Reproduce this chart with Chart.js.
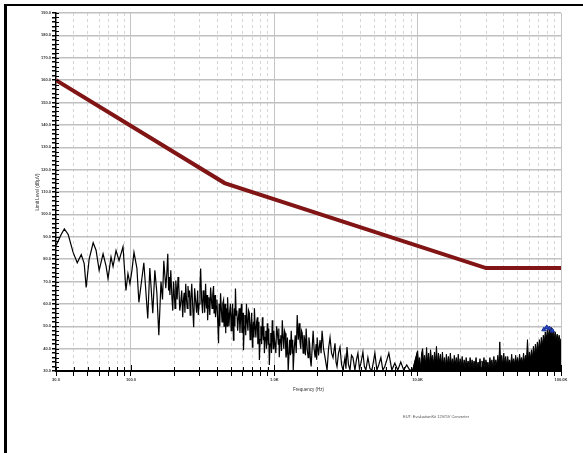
<!DOCTYPE html>
<html>
<head>
<meta charset="utf-8">
<script src="https://cdn.jsdelivr.net/npm/chart.js@4.4.0/dist/chart.umd.min.js"></script>
<style>
html,body{margin:0;padding:0;background:#fff;}
#wrap{position:relative;width:583px;height:453px;overflow:hidden;}
#frame{position:absolute;left:4px;top:4px;width:600px;height:460px;border-left:3px solid #000;border-top:2px solid #000;box-sizing:border-box;}
#eut{position:absolute;left:403px;top:414px;font:4px "Liberation Sans",Arial,sans-serif;color:#555;white-space:nowrap;}
canvas{position:absolute;left:0;top:0;}
</style>
</head>
<body>
<div id="wrap">
<div id="frame"></div>
<canvas id="c" width="583" height="453"></canvas>
<div id="eut">EUT: EvaluationKit 12V/5V Converter</div>
</div>
<script>
// ---- data ----
const traceFreq = [
 30,32.6,34.3,36.5,39.5,42.2,45,47.2,48.7,51.1,
 54.5,57.1,60,63.9,67,69.2,72.6,75,78.7,82.6,
 88,92.3,95.3,98.4,101.6,105,110,113.6,123,131,
 135.4,142,146.8,151.6,
 156.5,162,166,169.5,175,178,180.7,183,185,187,
 189.6,193,195.8,198,200,203,205.4,208,210,213,
 215.4,219,222,226,229.7,232,235,238,241,244,
 247,250,252.9,256,259,262,265.5,270,273.8,278,
 282,287,291.9,295,299,303,306.3,311,316.2,319,
 323,327,331.7,334,337,340,342.7,346,350,355,
 359.5,364,368,372,376.8,380,383,386,389,393,
 398,403,408.3,412,415,418,421.7,427,432,437,
 442.6,446,450,453,457,460,464,468,472,477,
 483,489,494.5,500,506,512,518.8,523,527,531,
 535.8,542,548,555,562.3,569,576,583,590,595,
 600,605,609.5,617,624,632,639.5,647,655,662,
 670,678,686,695,703.5,709,715,721,726.5,735,
 744,753,762,768,775,781,787,796,806,816,
 826,833,840,846,853,863,873,883,894,901,
 908,915,923,934,945,956,968,976,984,992,
 1000,1025,1037,1049,1066,1075,1083,1096,1110,1123,
 1137,1151,1165,1178,1192,1206,1220,1235,1250,1280,
 1296,1312,1333,1344,1355,1377,1400,1422,1445,1470,
 1493,1511,1530,1547,1565,1590,1610,1630,1649,1668,
 1695,1722,1743,1765,1786,1807,1836,1866,1895,1927,
 1958,1974,1990,
 2035,2085,2120,2154,2205,2260,2334,2390,2448,2508,
 2568,2652,2695,2738,2805,2873,2945,3014,3112,3160,
 3214,3290,3372,3455,3537,3652,3740,3831,3925,4019,
 4150,4250,4354,4496,4650,4796,4910,5030,5194,5370,
 5540,5717,5900,6098,6296,6605,6929,7268,7624,7998,
 8390,8801,9233,
 10000,10160,10320,10490,10660,10830,11000,11180,11360,11540,
 11730,11920,12110,12300,12500,12700,12900,13110,13320,13530,
 13750,13970,14190,14420,14650,14890,15130,15370,15610,15860,
 16120,16380,16640,16910,17180,17450,17730,18010,18300,18600,
 18900,19200,19500,19810,20130,20450,20780,21110,21450,21800,
 22150,22500,22860,23230,23600,23980,24360,24750,25150,25550,
 25960,26380,26800,27230,27670,28110,28560,29020,29480,29950,
 30430,30920,31420,31920,32430,32950,33480,34020,34560,35110,
 35670,36240,36820,37410,38010,38620,39240,39870,40510,41160,
 41820,42490,43170,43860,44560,45270,46000,46740,47490,48250,
 49020,49800,50600,51410,52230,53070,53920,54780,55660,56550,
 57450,58370,59310,60260,61220,62200,63200,64210,65240,66280,
 67340,68420,69510,70620,71750,72900,74070,75260,76460,77680,
 78930,80190,81470,82780,84100,85450,86820,88210,89620,91050,
 92510,93990,95490,97020,98570,100000];
const traceLevel = [
 86,91,93.5,91,83,78.4,82,78,67.3,80,
 87.3,84,75,82.4,77,71.3,81,76.7,83.8,79.3,
 85.5,66,73.5,69,75,83,76,60.7,78.4,53.5,
 76,55.8,75,65,
 46,70,62,79.3,67,74,82.4,66,72,64,
 75,63,57,70,66,58,70.4,66,62,72,
 69,57,60,66,54,61,65,56,69,62,
 58,68,63,66,55,62,69,58,49.6,67,
 62,56,66,55,60,68,75.8,62,55.8,66,
 64,56,69,62,58,64,52.7,59,63,55,
 67.3,62,58,64,68,56,60,64,54,59,
 62,52,42.4,60,55,50,64.7,58,52,60,
 61.6,50,55,60,46.9,54,58,50,63,56,
 50,57,60,48,54,60,43.8,52,58,50,
 66.9,55,57,48,54,58,47,55,60,47,
 52,56,39.3,50,55,46,60,52,48,57,
 55.8,44,50,56,40.7,48,52,45,58,50,
 45,52,54,42,46,52,34.9,44,50,42,
 54,48,44,50,38,45,48,40,51.3,46,
 42,49,32.7,42,47,38,52.7,46,40,48,
 45,38,50,48,42,49,36.2,44,46,39,
 52.7,45,40,48,46.9,36,38,45,30,44,
 37,48,38,44,30.4,40,46,38,55,44,
 51.3,43,40,48,47,38,46,44,37,49,
 40,36,45,42,35,32,40,48,40,36,
 42,35,45,
 37,43.8,38,48,40,36,30.4,40,45,38,
 36,42.4,34,32,38,40.7,33,30.4,36,31,
 40.7,33,30.4,37,36,30.4,35,38,31,33.5,
 38.5,32,30.4,36,31,30.4,34,38,30.4,33,
 36,30.4,32,35,38,30.4,33.5,30.4,34,30.4,
 32.7,30.4,30.4,
 39,33,36,31.5,38,40,34,37,33,40.5,
 34,38,33,39.5,35,37,33,38.5,34,41,
 33.5,38,34,37.5,32.5,38.5,33,36,32,37.5,
 33,36.5,32.5,38,33,35.5,32,37,33,36,
 32,37.5,32.5,35.5,32,36.5,32,35,31.5,36,
 32.5,34.5,31.5,36,32,35,31.5,34.5,32,36,
 31.5,34,32,35.5,31.5,34.5,32,36,31.5,35,
 32,34,31.5,36,32,35,31.5,36.5,32,35,
 32.5,37,33,43,33,37,32.5,38,33,36.5,
 32.5,36.5,33,35,32.5,37.5,33,35.5,33,37,
 33.5,36,33,37.5,34,36,33.5,38,34,37,
 35,44,35,38.5,35.5,39.5,36,41,37,42,
 38,43,39,44,40,45,41,46,43,47.5,
 44,48.5,45,49,45.5,49.5,45,48.5,44.5,47.5,
 44,46.5,43.5,46,43,44.5];
const denseStartFreq = 9233;          // above this the trace is a dense noise band
const limitFreq = [30, 450, 30000, 100000];
const limitLevel = [160, 114, 76, 76];
const peakFreq = [76000, 79500, 83000, 87000];
const peakLevel = [48.5, 49.5, 49, 48];
const xTickValues = [30,40,50,60,70,80,90,100,200,300,400,500,600,700,800,900,1000,2000,3000,4000,5000,6000,7000,8000,9000,10000,20000,30000,40000,50000,60000,70000,80000,90000,100000];
const xTickLabels = {30:'30.0',100:'100.0',1000:'1.0K',10000:'10.0K',100000:'100.0K'};
const decades = [100,1000,10000,100000];
const yMin = 30, yMax = 190, yStep = 2, yLabelStep = 10;

const toPts = (xs, ys) => xs.map((x, i) => ({x: x, y: ys[i]}));
const allPts = toPts(traceFreq, traceLevel);
const splitIdx = traceFreq.indexOf(denseStartFreq);
const sparsePts = allPts.slice(0, splitIdx + 2);
const densePts = allPts.slice(splitIdx);
const FONT = '"Liberation Sans", Arial, sans-serif';

const innerTicks = {
  id: 'innerTicks',
  afterDraw(chart) {
    const ctx = chart.ctx, xs = chart.scales.x, ys = chart.scales.y;
    ctx.save();
    ctx.strokeStyle = '#000';
    ctx.lineWidth = 1;
    ys.ticks.forEach(t => {
      const p = Math.round(ys.getPixelForValue(t.value)) + 0.5;
      ctx.beginPath(); ctx.moveTo(xs.left, p); ctx.lineTo(xs.left + 3, p); ctx.stroke();
    });
    xs.ticks.forEach(t => {
      const p = Math.round(xs.getPixelForValue(t.value)) + 0.5;
      const len = decades.includes(t.value) ? 6 : 4;
      ctx.beginPath(); ctx.moveTo(p, ys.bottom); ctx.lineTo(p, ys.bottom - len); ctx.stroke();
    });
    ctx.restore();
  }
};

new Chart(document.getElementById('c'), {
  type: 'line',
  data: {
    datasets: [
      {label: 'Limit', data: toPts(limitFreq, limitLevel), borderColor: '#811414', borderWidth: 4, pointRadius: 0, tension: 0, order: 0},
      {label: 'Peaks', data: toPts(peakFreq, peakLevel), showLine: false, pointStyle: 'triangle', pointRadius: 2.5, backgroundColor: '#2646c8', borderColor: '#1a2f9a', borderWidth: 1, order: 1},
      {label: 'Trace', data: sparsePts, borderColor: '#000', borderWidth: 1.2, pointRadius: 0, tension: 0, order: 2},
      {label: 'Trace HF', data: densePts, borderColor: '#000', backgroundColor: '#000', fill: 'start', borderWidth: 1, pointRadius: 0, tension: 0, order: 3}
    ]
  },
  options: {
    responsive: false,
    animation: false,
    devicePixelRatio: 1,
    layout: {padding: {left: 35, right: 22, top: 13, bottom: 61}},
    plugins: {legend: {display: false}, tooltip: {enabled: false}},
    scales: {
      x: {
        type: 'logarithmic', min: 30, max: 100000, position: 'bottom',
        afterBuildTicks: s => { s.ticks = xTickValues.map(v => ({value: v})); },
        afterFit: s => { s.height = 21; },
        ticks: {
          autoSkip: false, maxRotation: 0, minRotation: 0, padding: 1,
          font: {family: FONT, size: 4, weight: 'bold'}, color: '#333',
          callback: v => xTickLabels[v] || ''
        },
        grid: {
          color: c => (c.tick && decades.includes(c.tick.value)) ? '#c4c4c4' : 'rgba(0,0,0,0)',
          lineWidth: 1, tickColor: '#000', tickLength: 5, drawTicks: true
        },
        border: {color: '#000', width: 2},
        title: {display: true, text: 'Frequency (Hz)', font: {family: FONT, size: 4.5}, color: '#333', padding: 0}
      },
      x2: {
        type: 'logarithmic', min: 30, max: 100000, position: 'top',
        afterBuildTicks: s => { s.ticks = xTickValues.filter(v => v !== 30 && !decades.includes(v)).map(v => ({value: v})); },
        afterFit: s => { s.height = 0; },
        ticks: {display: false},
        grid: {color: '#d6d6d6', lineWidth: 1, drawTicks: false},
        border: {display: false, dash: [3, 3]}
      },
      y: {
        type: 'linear', min: yMin, max: yMax,
        afterFit: s => { s.width = 21; },
        ticks: {
          stepSize: yStep, autoSkip: false, padding: 1,
          font: {family: FONT, size: 4, weight: 'bold'}, color: '#333',
          callback: v => (v % yLabelStep === 0) ? v.toFixed(1) : ''
        },
        grid: {
          color: c => (c.tick && c.tick.value % yLabelStep === 0 && c.tick.value !== yMin) ? '#c0c0c0' : 'rgba(0,0,0,0)',
          lineWidth: 1.5, tickColor: '#000', tickLength: 4
        },
        border: {color: '#000', width: 1.5},
        title: {display: true, text: 'Limit Level (dBµV)', font: {family: FONT, size: 4.5}, color: '#333', padding: 0}
      }
    }
  },
  plugins: [innerTicks]
});
</script>
</body>
</html>
